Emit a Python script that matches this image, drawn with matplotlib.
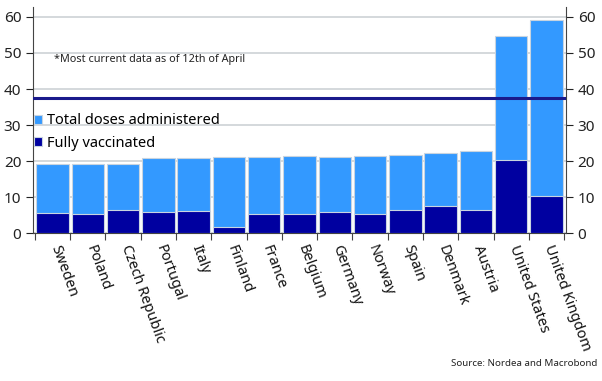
import matplotlib.pyplot as plt
import numpy as np

plt.rcParams['font.family'] = ['Noto Sans', 'DejaVu Sans']

# Data
countries = ["Sweden", "Poland", "Czech Republic", "Portugal", "Italy", "Finland",
             "France", "Belgium", "Germany", "Norway", "Spain", "Denmark",
             "Austria", "United States", "United Kingdom"]
total_doses = [19.1, 19.1, 19.1, 20.8, 20.9, 21.0, 21.1, 21.3, 21.2, 21.5, 21.7,
               22.3, 22.8, 54.6, 59.1]
fully_vacc = [5.5, 5.4, 6.4, 6.0, 6.2, 1.6, 5.2, 5.3, 5.9, 5.4, 6.5, 7.6, 6.4,
              20.3, 10.2]
ref_level = 37.6

light_blue = "#3399ff"
dark_blue = "#0000a0"

fig = plt.figure(figsize=(6.02, 3.81), dpi=100)
ax = fig.add_axes([0.055, 0.388, 0.885, 0.594])

x = np.arange(len(countries))
ax.bar(x, total_doses, width=0.92, color=light_blue, edgecolor="#c8d4e0",
       linewidth=0.8, zorder=3, label="Total doses administered")
ax.bar(x, fully_vacc, width=0.92, color=dark_blue, edgecolor="#c8d4e0",
       linewidth=0.8, zorder=4, label="Fully vaccinated")
ax.axhline(ref_level, color="#1a1a8c", linewidth=2.2, zorder=5)

ax.set_ylim(0, 62.8)
ax.set_xlim(-0.55, len(countries) - 0.45)
ax.set_yticks(range(0, 61, 10))
ax.yaxis.grid(True, color="#cdd2d6", linewidth=1.2, zorder=0)
ax.tick_params(axis="y", which="both", left=True, right=True, labelleft=True,
               labelright=True, labelsize=11, colors="#222222", length=5)

# tick marks between bars, labels at bar centres
ax.set_xticks(np.arange(len(countries) + 1) - 0.5)
ax.set_xticklabels([])
ax.tick_params(axis="x", length=5, color="#444444")
for i, name in enumerate(countries):
    ax.text(i + 0.05, -3.5, name, rotation=-70, rotation_mode="anchor",
            ha="left", va="center", fontsize=10.5, color="#111111")

ax.spines["top"].set_visible(False)
for side in ["left", "right", "bottom"]:
    ax.spines[side].set_color("#444444")

ax.text(0.05, 48.3, "*Most current data as of 12th of April", fontsize=7.8,
        color="#222222", va="center")

ax.legend(loc="upper left", bbox_to_anchor=(-0.01, 0.555), frameon=False,
          fontsize=10.5, handlelength=0.6, handleheight=0.6, handletextpad=0.3,
          labelspacing=0.5, borderaxespad=0)

fig.text(0.992, 0.045, "Source: Nordea and Macrobond", ha="right", va="center",
         fontsize=7, color="#222222")

fig.savefig("out.png", dpi=100)
